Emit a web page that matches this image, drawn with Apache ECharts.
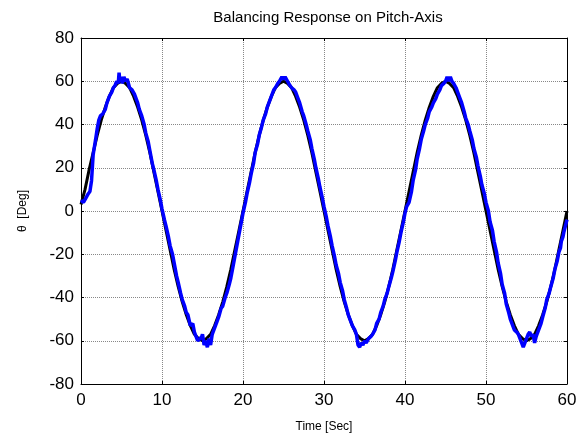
<!DOCTYPE html>
<html>
<head>
<meta charset="utf-8">
<script src="https://cdn.jsdelivr.net/npm/echarts@6/dist/echarts.min.js"></script>
<style>
  html, body { margin: 0; padding: 0; background: #fff; }
  #chart { width: 582px; height: 433px; }
</style>
</head>
<body>
<div id="chart"></div>
<script>
// reference (black) read every 0.5 s
const refTime = [
  0, 0.5, 1, 1.5, 2, 2.5, 3, 3.5, 4, 4.5, 5, 5.5, 6, 6.5, 7, 7.5, 8, 8.5, 9, 9.5,
  10, 10.5, 11, 11.5, 12, 12.5, 13, 13.5, 14, 14.5, 15, 15.5, 16, 16.5, 17, 17.5, 18, 18.5, 19, 19.5,
  20, 20.5, 21, 21.5, 22, 22.5, 23, 23.5, 24, 24.5, 25, 25.5, 26, 26.5, 27, 27.5, 28, 28.5, 29, 29.5,
  30, 30.5, 31, 31.5, 32, 32.5, 33, 33.5, 34, 34.5, 35, 35.5, 36, 36.5, 37, 37.5, 38, 38.5, 39, 39.5,
  40, 40.5, 41, 41.5, 42, 42.5, 43, 43.5, 44, 44.5, 45, 45.5, 46, 46.5, 47, 47.5, 48, 48.5, 49, 49.5,
  50, 50.5, 51, 51.5, 52, 52.5, 53, 53.5, 54, 54.5, 55, 55.5, 56, 56.5, 57, 57.5, 58, 58.5, 59, 59.5, 60
];
const refPitch = [
  3, 10, 19, 27, 35, 42, 48, 53, 57, 59, 60, 59, 57, 53, 48, 42, 35, 27, 18, 9,
  0, -9, -18, -27, -35, -42, -48, -53, -57, -59, -60, -59, -57, -53, -48, -42, -35, -27, -18, -9,
  0, 9, 18, 27, 35, 42, 48, 53, 57, 59, 60, 59, 57, 53, 48, 42, 35, 27, 18, 9,
  0, -9, -18, -27, -35, -42, -48, -53, -57, -59, -60, -59, -57, -53, -48, -42, -35, -27, -18, -9,
  0, 9, 18, 27, 35, 42, 48, 53, 57, 59, 60, 59, 57, 53, 48, 42, 35, 27, 18, 9,
  0, -9, -18, -27, -35, -42, -48, -53, -57, -59, -60, -59, -57, -53, -48, -42, -35, -27, -18, -9, 0
];

// measured response (blue), [time, pitch] per cycle
const respCycle1 = [
  [0, 5], [0.3, 4], [0.6, 6], [0.9, 8], [1.1, 9], [1.3, 14], [1.5, 26], [1.8, 33], [2, 38], [2.2, 42],
  [2.4, 44], [2.7, 45], [3, 47], [3.2, 50], [3.5, 53], [3.8, 55], [4, 57], [4.2, 58], [4.4, 60], [4.6, 59],
  [4.7, 64], [4.8, 60], [5, 62], [5.1, 59], [5.3, 62], [5.5, 60], [5.7, 61], [6, 57], [6.3, 56], [6.6, 54],
  [7, 50], [7.2, 47], [7.5, 44], [7.8, 40], [8, 36], [8.3, 32], [8.5, 28], [8.8, 22], [9, 19], [9.3, 14],
  [9.5, 10], [9.8, 5], [10, 1], [10.3, -4], [10.5, -7], [10.8, -12], [11, -16], [11.3, -20], [11.5, -24], [11.8, -30],
  [12, -33], [12.3, -38], [12.5, -41], [12.8, -44], [13, -47], [13.2, -48], [13.5, -53], [13.8, -52], [14, -56], [14.2, -58],
  [14.4, -60], [14.7, -59], [14.9, -58], [15, -57], [15.2, -62], [15.4, -60], [15.6, -63], [15.8, -59], [16, -62], [16.2, -57],
  [16.5, -54], [16.8, -51], [17, -49], [17.3, -45], [17.5, -44], [17.8, -40], [18, -38], [18.3, -34], [18.5, -31], [18.8, -25],
  [19, -21], [19.3, -15], [19.5, -11], [19.8, -5], [20, -1]
];
const respCycle2 = [
  [20.3, 4], [20.5, 8], [20.8, 13], [21, 17], [21.3, 22], [21.5, 27], [21.8, 31], [22, 35], [22.3, 39], [22.5, 42],
  [22.8, 45], [23, 48], [23.3, 51], [23.5, 53], [23.8, 56], [24, 57], [24.3, 59], [24.5, 60], [24.8, 62], [25, 61],
  [25.2, 62], [25.5, 60], [25.8, 58], [26, 57], [26.3, 56], [26.5, 55], [26.8, 52], [27, 50], [27.3, 46], [27.5, 44],
  [27.8, 40], [28, 37], [28.3, 33], [28.5, 29], [28.8, 24], [29, 20], [29.3, 15], [29.5, 11], [29.8, 6], [30, 2],
  [30.3, -3], [30.5, -7], [30.8, -12], [31, -16], [31.3, -21], [31.5, -25], [31.8, -29], [32, -33], [32.3, -37], [32.5, -41],
  [32.8, -45], [33, -48], [33.3, -51], [33.5, -53], [33.8, -55], [34, -57], [34.2, -62], [34.4, -63], [34.6, -61], [34.8, -62],
  [35, -60], [35.2, -61], [35.5, -59], [35.8, -58], [36, -57], [36.3, -55], [36.5, -52], [36.8, -50], [37, -47], [37.3, -44],
  [37.5, -41], [37.8, -38], [38, -35], [38.3, -31], [38.5, -28], [38.8, -23], [39, -19], [39.3, -14], [39.5, -10], [39.8, -5],
  [40, -1]
];
const respCycle3 = [
  [40.2, 2], [40.5, 4], [40.8, 9], [41, 14], [41.3, 19], [41.5, 24], [41.8, 29], [42, 33], [42.3, 37], [42.5, 40],
  [42.8, 43], [43, 46], [43.3, 48], [43.5, 50], [43.8, 52], [44, 54], [44.3, 56], [44.5, 58], [44.8, 59], [45, 60],
  [45.2, 62], [45.4, 60], [45.6, 62], [45.8, 60], [46, 59], [46.3, 57], [46.5, 55], [46.8, 52], [47, 50], [47.3, 46],
  [47.5, 43], [47.8, 40], [48, 37], [48.3, 33], [48.5, 29], [48.8, 25], [49, 21], [49.3, 16], [49.5, 12], [49.8, 8],
  [50, 4], [50.3, 0], [50.5, -5], [50.8, -9], [51, -14], [51.3, -19], [51.5, -24], [51.8, -29], [52, -34], [52.3, -38],
  [52.5, -43], [52.8, -47], [53, -50], [53.3, -53], [53.5, -55], [53.8, -56], [54, -57], [54.2, -59], [54.4, -61], [54.6, -63],
  [54.8, -61], [55, -59], [55.2, -57], [55.4, -56], [55.6, -58], [55.8, -57], [56, -61], [56.2, -58], [56.5, -55], [56.8, -52],
  [57, -49], [57.3, -45], [57.5, -41], [57.8, -38], [58, -35], [58.3, -31], [58.5, -27], [58.8, -23], [59, -19], [59.2, -17],
  [59.3, -14], [59.5, -12], [59.6, -10], [59.8, -7], [60, -4]
];

const xTicks = [0, 10, 20, 30, 40, 50, 60];
const yTicks = [-80, -60, -40, -20, 0, 20, 40, 60, 80];

const font = 'Liberation Sans, Arial, sans-serif';
const chart = echarts.init(document.getElementById('chart'), null, { renderer: 'canvas' });

const pair = (xs, ys) => xs.map((x, i) => [x, ys[i]]);

const tick = { show: true, inside: true, length: 3, lineStyle: { color: '#000' } };
const grid = { show: true, lineStyle: { color: '#888', type: [1, 1], width: 1 } };

chart.setOption({
  animation: false,
  backgroundColor: '#fff',
  title: {
    text: 'Balancing Response on Pitch-Axis',
    left: 323, top: 5, textAlign: 'center',
    textStyle: { color: '#000', fontSize: 15, fontWeight: 'normal', fontFamily: font }
  },
  // fixed plot box, don't let axis names shrink it
  grid: { left: 81, right: 15, top: 38, bottom: 49, outerBoundsMode: 'none' },
  xAxis: [
    {
      type: 'value', min: xTicks[0], max: xTicks[xTicks.length - 1], interval: 10,
      axisLine: { show: true, onZero: false, lineStyle: { color: '#000', width: 1 } },
      axisTick: tick,
      axisLabel: { color: '#000', fontSize: 17, fontFamily: font, margin: 8 },
      splitLine: grid,
      name: 'Time [Sec]', nameLocation: 'middle', nameGap: 37,
      nameTextStyle: { color: '#000', fontSize: 12, fontFamily: font }
    },
    {
      type: 'value', position: 'top', min: 0, max: 60, interval: 10,
      axisLine: { show: true, onZero: false, lineStyle: { color: '#000' } },
      axisTick: tick, axisLabel: { show: false }, splitLine: { show: false }
    }
  ],
  yAxis: [
    {
      type: 'value', min: yTicks[0], max: yTicks[yTicks.length - 1], interval: 20,
      axisLine: { show: true, onZero: false, lineStyle: { color: '#000', width: 1 } },
      axisTick: tick,
      axisLabel: { color: '#000', fontSize: 17, fontFamily: font, margin: 7 },
      splitLine: grid,
      name: 'θ  [Deg]', nameLocation: 'middle', nameGap: 52, nameRotate: 90,
      nameTextStyle: { color: '#000', fontSize: 12, fontFamily: font }
    },
    {
      type: 'value', position: 'right', min: -80, max: 80, interval: 20,
      axisLine: { show: true, onZero: false, lineStyle: { color: '#000' } },
      axisTick: tick, axisLabel: { show: false }, splitLine: { show: false }
    }
  ],
  series: [
    {
      type: 'line', name: 'reference', xAxisIndex: 0, yAxisIndex: 0,
      data: pair(refTime, refPitch), showSymbol: false,
      lineStyle: { color: '#000', width: 3 }
    },
    {
      type: 'line', name: 'response', xAxisIndex: 0, yAxisIndex: 0,
      data: respCycle1.concat(respCycle2, respCycle3), showSymbol: false,
      lineStyle: { color: '#0000ff', width: 3.5 }
    }
  ]
});
</script>
</body>
</html>
